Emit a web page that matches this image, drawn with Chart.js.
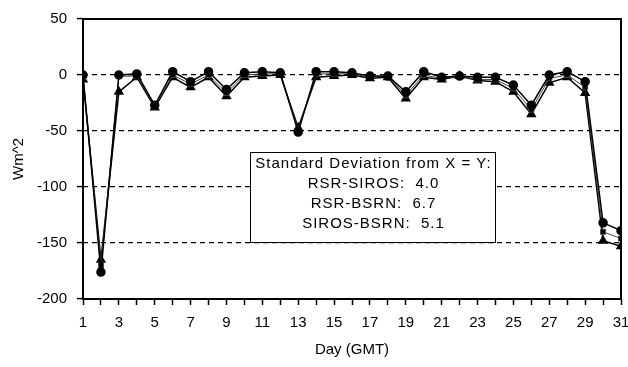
<!DOCTYPE html>
<html>
<head>
<meta charset="utf-8">
<script src="https://cdn.jsdelivr.net/npm/chart.js@4.4.1/dist/chart.umd.min.js"></script>
<style>
  html, body { margin: 0; padding: 0; background: #fff; }
  #wrap { width: 628px; height: 367px; }
</style>
</head>
<body>
<div id="wrap"><canvas id="chart" width="628" height="367"></canvas></div>
<script>
// DATA
const days = [1, 2, 3, 4, 5, 6, 7, 8, 9, 10, 11, 12, 13, 14, 15, 16, 17, 18, 19, 20, 21, 22, 23, 24, 25, 26, 27, 28, 29, 30, 31];
const rsrSiros = [0, -176, 0, 1, -27, 3, -6, 3, -13, 2, 3, 2, -51, 3, 3, 2, -1, -1, -15, 3, -2, -1, -2, -2, -9, -27, 0, 3, -6, -132, -139];
const rsrBsrn = [-2, -170, -1, -1, -28, 0, -8, 0, -16, 0, 1, 1, -49, 1, 1, 1, -2, -1, -18, 0, -3, -1, -4, -4, -12, -31, -3, 0, -11, -140, -146];
const sirosBsrn = [-4, -165, -15, -2, -29, -2, -11, -2, -19, -2, -1, 0, -47, -2, -1, 0, -3, -2, -21, -2, -4, -1, -5, -6, -15, -35, -7, -2, -16, -148, -153];
const yTicks = [50, 0, -50, -100, -150, -200];
const boxLines = ["Standard Deviation from X = Y:", "RSR-SIROS:  4.0", "RSR-BSRN:  6.7", "SIROS-BSRN:  5.1"];

const FONT = "'Liberation Sans', Arial, sans-serif";

function toPoints(vals) {
    return days.map((d, i) => ({ x: d, y: vals[i] }));
}

// frame + stats box
const framePlugin = {
    id: "frame",
    afterDraw(chart) {
        const { ctx, chartArea: a } = chart;
        ctx.save();
        ctx.strokeStyle = "#000";
        ctx.lineWidth = 2;
        ctx.strokeRect(a.left, a.top, a.right - a.left, a.bottom - a.top);

        // stats box
        const bx = 250, by = 152, bw = 245, bh = 90;
        ctx.fillStyle = "#fff";
        ctx.fillRect(bx, by, bw, bh);
        ctx.lineWidth = 1;
        ctx.strokeRect(bx + 0.5, by + 0.5, bw, bh);
        ctx.fillStyle = "#000";
        ctx.font = "15px " + FONT;
        ctx.letterSpacing = "1px";
        ctx.textAlign = "center";
        ctx.textBaseline = "middle";
        boxLines.forEach((t, i) => ctx.fillText(t, bx + bw / 2 + 1, by + 12 + i * 20));
        ctx.restore();
    }
};

const ctx = document.getElementById("chart").getContext("2d");
new Chart(ctx, {
    type: "line",
    data: {
        datasets: [
            { label: "RSR-SIROS", data: toPoints(rsrSiros), borderColor: "#000", backgroundColor: "#000", borderWidth: 1.5, pointStyle: "circle", pointRadius: 4 },
            { label: "RSR-BSRN", data: toPoints(rsrBsrn), borderColor: "#444", backgroundColor: "#000", borderWidth: 1, pointStyle: "rect", pointRadius: 3.5 },
            { label: "SIROS-BSRN", data: toPoints(sirosBsrn), borderColor: "#000", backgroundColor: "#000", borderWidth: 1.5, pointStyle: "triangle", pointRadius: 4.5 }
        ]
    },
    options: {
        responsive: false,
        animation: false,
        layout: { padding: { top: 14, right: 0, left: 0, bottom: 0 } },
        plugins: { legend: { display: false }, tooltip: { enabled: false } },
        scales: {
            x: {
                type: "linear",
                min: 1, max: 31,
                afterFit(s) { s.height = 68; s.paddingRight = 7; },
                border: { display: false },
                grid: { drawOnChartArea: false, drawTicks: true, tickLength: 6, tickColor: "#000", tickWidth: 1.5 },
                ticks: {
                    stepSize: 1, autoSkip: false, maxRotation: 0, padding: 9,
                    color: "#000", font: { family: FONT, size: 15 },
                    callback: v => (v % 2 === 1 ? String(v) : "")
                },
                title: { display: true, text: "Day (GMT)", color: "#000", font: { family: FONT, size: 15 }, padding: { top: 0, bottom: 8 } }
            },
            y: {
                min: -200, max: 50,
                afterBuildTicks(s) { s.ticks = yTicks.map(v => ({ value: v })); },
                afterFit(s) { s.width = 83; },
                border: { display: false, dash: [5, 4] },
                grid: {
                    color: c => (c.tick && (c.tick.value === 50 || c.tick.value === -200) ? "rgba(0,0,0,0)" : "#000"),
                    lineWidth: 1.2,
                    tickColor: "#000",
                    tickLength: 6,
                    tickWidth: 1.5,
                    tickBorderDash: []
                },
                ticks: { color: "#000", padding: 10, font: { family: FONT, size: 15 } },
                title: { display: true, text: "Wm^2", color: "#000", font: { family: FONT, size: 15 }, padding: { top: 10, bottom: 0 } }
            }
        }
    },
    plugins: [framePlugin]
});
</script>
</body>
</html>
